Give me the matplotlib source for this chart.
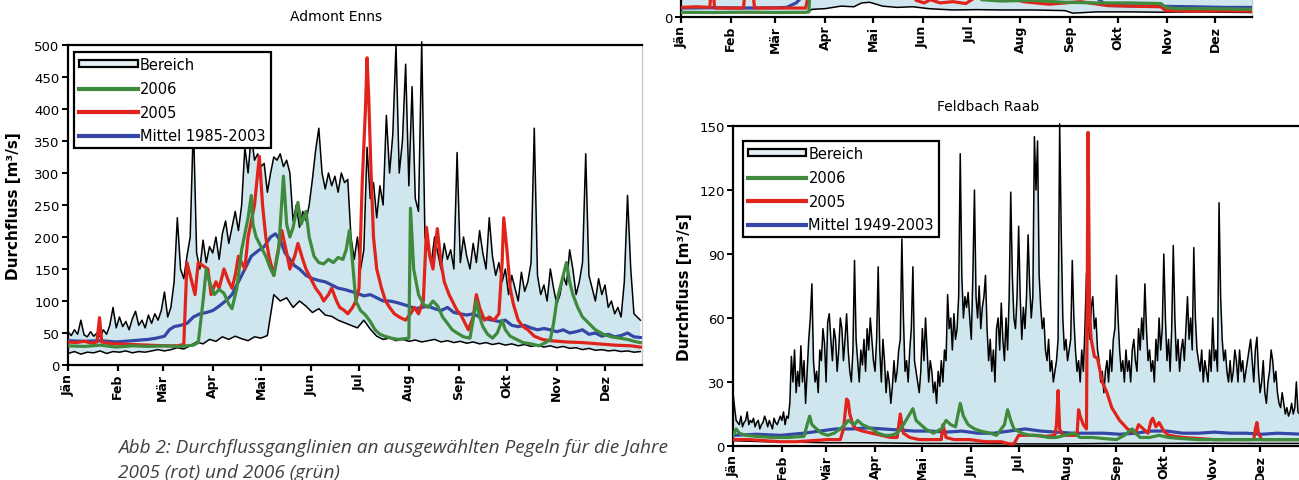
import numpy as np
import matplotlib
matplotlib.use("Agg")
import matplotlib.pyplot as plt
from matplotlib.patches import Patch
from matplotlib.lines import Line2D

# ---------------------------------------------------------------- data
months = ["Jän", "Feb", "Mär", "Apr", "Mai", "Jun", "Jul", "Aug", "Sep", "Okt", "Nov", "Dez"]
month_start = [0, 31, 59, 90, 120, 151, 181, 212, 243, 273, 304, 334]

# Admont / Enns  (day of year, discharge m³/s)
admont_upper = [
    52, 46, 55, 48, 70, 47, 44, 52, 45, 50, 44, 55, 48, 62, 90, 58,
    75, 60, 68, 55, 72, 84, 62, 70, 58, 78, 65, 80, 70, 85,
    114, 75, 90, 130, 230, 150, 135, 170, 200, 380, 175, 150, 195, 160, 185,
    175, 200, 165, 205, 225, 190, 215, 240, 210, 250, 340, 300, 360, 320, 330,
    310, 315, 270, 300, 325, 320, 330, 310, 320, 300, 225, 250, 215, 240, 225, 250,
    290, 335, 370, 300, 275, 300, 280, 295, 270, 300, 285, 290, 200, 165,
    200, 150, 180, 340, 260, 285, 230, 280, 250, 390, 300, 360, 500, 300, 350, 470,
    280, 435, 260, 240, 505, 200, 180, 160, 200, 175, 150, 190, 165, 180, 150, 332,
    160, 200, 170, 150, 190, 160, 210, 175, 150, 230, 170, 140, 160,
    130, 150, 110, 140, 120, 100, 145, 115, 130, 160, 370, 140, 110, 125, 100, 150,
    120, 95, 110, 140, 125, 180, 150, 110, 130, 160, 330, 140, 120, 100, 135,
    110, 125, 90, 100, 80, 90, 75, 130, 265, 150, 80, 75, 70,
]
admont_upper_days = list(range(0, 2 * len(admont_upper), 2))

admont_lower = [
    18, 21, 17, 20, 19, 22, 18, 21, 20, 22, 19, 21, 20, 22, 24, 22, 24, 27, 25, 30,
    36, 33, 40, 37, 44, 40, 45, 41, 38, 44, 42, 46, 110, 100, 105, 90, 100, 92, 82, 88,
    78, 76, 70, 66, 62, 58, 70, 56, 45, 40, 42, 38, 40, 37, 39, 36, 38, 40, 36, 38,
    35, 37, 34, 36, 33, 35, 32, 34, 31, 33, 30, 32, 29, 31, 28, 30, 27, 29, 26, 27,
    24, 26, 23, 24, 22, 23, 21, 22, 20, 21,
]
admont_lower_days = list(range(0, 4 * len(admont_lower), 4))

admont_2006_days = [0, 10, 20, 30, 40, 50, 60, 70, 78, 81, 84, 86, 88, 91, 94, 97, 100, 102, 105, 108,
                    110, 112, 114, 115, 117, 120, 123, 126, 128, 131, 134, 136, 138, 140, 143, 145, 148,
                    150, 153, 156, 159, 162, 165, 168, 171, 173, 175, 177, 179, 182, 185, 188, 191, 194,
                    197, 201, 205, 209, 212, 213, 215, 218, 221, 224, 227, 230, 233, 236, 239, 242, 246,
                    250, 254, 256, 258, 261, 264, 267, 270, 272, 275, 279, 283, 288, 293, 297, 300, 302,
                    304, 307, 310, 312, 314, 317, 320, 324, 328, 333, 338, 343, 348, 352, 356]
admont_2006 = [30, 29, 31, 28, 30, 29, 30, 29, 31, 35, 100, 150, 130, 110, 118, 112, 95, 88, 120, 180,
               205, 230, 265, 220, 200, 185, 170, 150, 140, 180, 295, 220, 200, 215, 254, 220, 240,
               200, 170, 160, 158, 165, 160, 168, 165, 180, 210, 160, 100, 85, 78, 68, 55, 48,
               45, 42, 40, 41, 42, 245, 150, 110, 95, 90, 100, 92, 75, 65, 55, 50, 44,
               42, 100, 75, 60, 48, 42, 50, 70, 55, 45, 40, 35, 33, 30, 35, 40, 65,
               100, 130, 160, 130, 110, 90, 75, 65, 55, 48, 44, 42, 40, 37, 35]

admont_2005_days = [0, 5, 10, 15, 18, 19.6, 21, 25, 30, 40, 50, 60, 68, 72, 74, 76, 79, 81, 84, 87, 89,
                    92, 94, 97, 100, 102, 104, 106, 108, 110, 112, 116, 119, 121, 123, 125, 128, 130,
                    133, 136, 138, 141, 143, 146, 148, 151, 154, 157, 159, 162, 164, 167, 169, 172,
                    174, 177, 179, 181, 183, 185, 186, 187, 188.5, 190, 192, 195, 197.5, 200, 203,
                    206, 210, 213, 215.5, 218, 221, 223, 225, 227, 229.7, 232, 234, 237, 239, 242,
                    244, 247, 249, 252, 254, 256, 259, 262, 265, 268, 270, 271, 273, 275, 277, 280,
                    283, 286, 290, 295, 300, 310, 320, 330, 340, 350, 356]
admont_2005 = [36, 35, 37, 34, 36, 74, 36, 34, 33, 32, 31, 30, 30, 32, 160, 140, 110, 160, 155, 150, 110,
               130, 120, 150, 130, 120, 140, 170, 160, 150, 200, 250, 326, 250, 200, 170, 140, 170,
               210, 175, 150, 170, 190, 165, 150, 135, 120, 110, 100, 110, 120, 100, 90, 85,
               80, 90, 100, 120, 285, 400, 480, 420, 300, 200, 150, 120, 100, 90, 80,
               75, 70, 80, 90, 80, 100, 215, 170, 150, 213, 160, 130, 110, 100, 85,
               80, 65, 55, 75, 110, 90, 70, 75, 70, 80, 160, 230, 180, 120, 95, 70,
               60, 55, 45, 40, 38, 36, 35, 33, 31, 30, 28]

admont_mean_days = [0, 10, 20, 30, 40, 50, 55, 60, 63, 66, 70, 74, 78, 82, 86, 90, 94, 98, 102, 106,
                    110, 114, 118, 122, 126, 129, 132, 135, 138, 141, 144, 148, 152, 156, 160, 164,
                    168, 172, 176, 180, 184, 188, 192, 196, 200, 204, 208, 212, 216, 220, 224, 228,
                    232, 236, 240, 244, 248, 252, 256, 260, 264, 268, 272, 276, 280, 284, 288, 292,
                    296, 300, 304, 308, 312, 316, 320, 324, 328, 332, 336, 340, 344, 348, 352, 356]
admont_mean = [38, 37, 38, 36, 38, 40, 42, 45, 55, 60, 62, 65, 75, 80, 82, 85, 92, 100, 110, 130,
               150, 170, 178, 185, 200, 205, 195, 175, 165, 155, 150, 140, 135, 132, 130, 125,
               120, 118, 115, 112, 108, 110, 105, 100, 100, 98, 95, 92, 88, 90, 92, 88,
               85, 90, 82, 80, 78, 80, 75, 72, 70, 68, 70, 62, 60, 62, 58, 55,
               57, 55, 52, 55, 50, 52, 55, 48, 50, 45, 48, 44, 46, 50, 44, 43]

# upper panel on the right (only its lowest band is inside the page)
top_lower_days = [0, 20, 40, 60, 79, 82, 90, 100, 108, 113, 118, 122, 126, 135, 145, 155, 162, 170,
                  185, 200, 220, 240, 245, 260, 280, 300, 320, 340, 357]
top_lower = [7, 7.5, 7, 7.5, 8, 12, 13, 17, 16, 22, 23, 20, 17, 15, 16, 13, 12, 11,
             11.5, 11, 11, 10, 6, 8, 8, 7.5, 8, 7.5, 7]
top_upper_days = [0, 60, 120, 180, 240, 300, 357]
top_upper = [80, 120, 250, 300, 200, 150, 120]
top_2005_days = [0, 10, 18, 19.5, 21, 30, 39, 41, 44, 46, 60, 78, 80, 82, 140, 147, 152, 156, 162,
                 170, 178, 190, 214, 230, 250, 266, 280, 300, 303, 320, 340, 357]
top_2005 = [15, 16, 15, 60, 14, 14, 14, 60, 60, 14, 14, 14, 40, 80, 60, 26, 22, 27, 22,
            24, 21, 40, 24, 20, 24, 18, 17, 16, 10, 9, 9.5, 9]
top_2006_days = [0, 20, 40, 60, 78, 80, 81, 120, 180, 188, 200, 220, 240, 260, 280, 300, 303, 310,
                 330, 357]
top_2006 = [7.3, 7, 7.5, 7, 7.3, 8, 80, 150, 60, 27, 25, 26, 23, 22, 22, 21, 15, 13, 13, 12]
top_mean_days = [0, 20, 40, 60, 66, 72, 79, 120, 200, 260, 266, 290, 320, 340, 357]
top_mean = [14, 14.5, 14, 14.5, 15, 22, 40, 110, 60, 30, 18, 17, 16, 15, 15]

# Feldbach / Raab  (daily values, day 0 .. 362)
feldbach_upper = [
    25, 18, 12, 11, 10, 14, 9, 11, 12, 16, 10, 12, 11, 13, 9, 11, 12, 8, 10, 11, 14, 12, 9, 12, 10, 8, 13, 11, 10, 12, 14,
    12, 16, 10, 14, 13, 20, 42, 30, 45, 25, 35, 28, 47, 30, 40, 20, 35, 50, 60, 76, 40, 30, 35, 25, 45, 40, 55, 48, 30,
    58, 62, 50, 40, 55, 50, 35, 45, 60, 55, 40, 50, 62, 45, 35, 30, 45, 87, 50, 40, 30, 45, 38, 50, 35, 55, 45, 60, 50, 40,
    35, 50, 84, 45, 30, 50, 40, 25, 35, 30, 20, 28, 40, 30, 35, 45, 50, 97, 60, 35, 40, 30, 45, 55, 84, 40, 35, 30, 25, 35,
    55, 40, 60, 45, 30, 40, 35, 25, 30, 20, 35, 28, 40, 30, 45, 40, 71, 55, 60, 45, 62, 50, 55, 70, 137, 80, 60, 70, 65, 72, 60,
    50, 80, 120, 70, 60, 75, 55, 65, 70, 80, 55, 40, 50, 35, 45, 30, 55, 60, 45, 67, 50, 40, 60, 45, 70, 119, 80, 60, 55, 70,
    103, 70, 50, 65, 55, 70, 99, 75, 60, 70, 145, 120, 143, 80, 65, 55, 60, 45, 40, 50, 35, 40, 30, 35, 40, 50, 151, 100, 60, 45, 50,
    40, 45, 50, 87, 60, 45, 35, 40, 30, 45, 35, 55, 81, 60, 50, 65, 70, 55, 60, 45, 40, 30, 35, 25, 35, 40, 30, 45, 35, 50, 55,
    80, 60, 45, 35, 40, 30, 45, 35, 40, 30, 45, 50, 40, 35, 55, 45, 60, 50, 76, 55, 40, 45, 35, 40, 30, 50, 40, 60, 45, 55,
    90, 60, 40, 50, 35, 55, 94, 60, 40, 50, 35, 45, 50, 40, 55, 70, 50, 60, 45, 93, 60, 45, 40, 35, 45, 30, 40, 35, 30, 45, 35,
    60, 40, 45, 35, 114, 70, 50, 40, 45, 35, 30, 40, 30, 35, 45, 40, 30, 45, 35, 40, 30, 35, 40, 45, 50, 40, 30, 45, 51, 35,
    25, 30, 40, 25, 20, 30, 35, 45, 40, 30, 35, 25, 20, 18, 25, 20, 15, 18, 14, 16, 20, 15, 18, 30, 16, 15, 14, 15, 15,
]
feldbach_upper_days = list(range(len(feldbach_upper)))

feldbach_lower_days = [0, 20, 40, 60, 90, 120, 150, 180, 210, 240, 270, 300, 330, 362]
feldbach_lower = [2.5, 2, 1.8, 1.5, 1.5, 1.2, 1.2, 1.0, 1.0, 1.2, 1.2, 1.3, 1.2, 1.2]

feldbach_2006_days = [0, 2, 4, 8, 15, 25, 35, 45, 47, 48.6, 50, 53, 56, 60, 64, 68, 71, 73, 75, 77, 79, 82,
                      85, 88, 92, 96, 100, 104, 108, 114, 116, 119, 122, 127, 132, 135, 138, 141, 144, 146,
                      149, 153, 157, 163, 167, 172, 174, 176, 178, 183, 188, 193, 200, 205, 210, 216, 220,
                      228, 235, 243, 248, 253, 255, 258, 264, 270, 276, 284, 295, 305, 315, 325, 335, 345, 362]
feldbach_2006 = [5, 8, 6, 5, 4.5, 4, 4, 4.5, 10, 14, 10, 8, 6, 5, 6, 8, 10, 12, 11, 10, 12, 10,
                 9, 8, 6, 5, 5, 6, 10, 17.5, 12, 10, 8, 6, 8, 12, 10, 9, 20, 14,
                 10, 8, 7, 6, 5, 10, 17, 12, 8, 6, 5, 5, 4, 4, 5, 6, 4,
                 4, 3.5, 3, 5, 8, 6, 4, 4, 5, 4, 3.5, 3, 3, 3, 3, 3, 3, 3]

feldbach_2005_days = [0, 10, 20, 30, 40, 50, 60, 68, 70, 72, 73, 74, 76, 78, 82, 88, 94, 100, 104, 106,
                      108, 112, 118, 126, 132, 133, 135, 140, 150, 160, 170, 175, 178, 181, 190, 198,
                      204, 205, 206, 207, 209, 215, 218, 219, 220, 222, 224, 225, 226, 227, 229, 231,
                      234, 237, 240, 245, 250, 255, 257, 260, 263, 265, 266, 268, 270, 273, 276, 285,
                      295, 305, 315, 325, 330, 331, 332, 333, 335, 345, 362]
feldbach_2005 = [3, 3, 2.5, 2, 2, 2.5, 3, 3, 8, 22, 21, 15, 10, 8, 7, 6, 5, 4, 4, 15,
                 6, 4, 3, 3, 3, 10, 4, 3, 3, 2, 2, 1, 1, 5, 5, 4.5,
                 5, 10, 26, 8, 5, 5, 5, 17, 14, 10, 8, 147, 60, 50, 42, 41,
                 30, 25, 18, 12, 8, 6, 10, 8, 6, 12, 13, 9, 11, 7, 5, 4,
                 3.5, 3, 3, 3, 3, 8, 11, 6, 3, 3, 3]

feldbach_mean_days = [0, 15, 30, 45, 55, 65, 75, 85, 95, 105, 115, 125, 135, 145, 155, 165, 175, 185,
                      195, 205, 215, 225, 235, 245, 255, 265, 275, 285, 295, 305, 315, 325, 335, 345, 362]
feldbach_mean = [5, 5.5, 5, 6, 7, 8, 8, 8.5, 8, 7.5, 7, 7, 6.5, 7, 6, 6, 7, 8,
                 7, 6.5, 6, 6, 6, 5.5, 6, 7, 7, 6, 6, 6.5, 6, 6, 5.5, 6, 5.5]

# ---------------------------------------------------------------- style
W, H, DPI = 1299, 481, 100
C_FILL = "#cfe6ee"
C_2006 = "#3f8a3c"
C_2005 = "#e0241b"
C_MEAN = "#3547a6"
LW_SERIES = 2.3

plt.rcParams["font.family"] = ["DejaVu Sans"]

fig = plt.figure(figsize=(W / DPI, H / DPI), dpi=DPI)


def px_box(x0, y0, x1, y1):
    return [x0 / W, 1 - y1 / H, (x1 - x0) / W, (y1 - y0) / H]


def draw_panel(ax, up_d, up_v, lo_d, lo_v, d06, v06, d05, v05, dm, vm):
    xs = np.r_[up_d, lo_d[::-1]]
    ys = np.r_[up_v, lo_v[::-1]]
    ax.fill(xs, ys, color=C_FILL, lw=0, zorder=1)
    ax.plot(lo_d, lo_v, color="black", lw=1.1, zorder=2)
    ax.plot(up_d, up_v, color="black", lw=1.1, zorder=2, clip_on=False)
    ax.plot(dm, vm, color=C_MEAN, lw=LW_SERIES, zorder=3)
    ax.plot(d05, v05, color=C_2005, lw=LW_SERIES, zorder=4)
    ax.plot(d06, v06, color=C_2006, lw=LW_SERIES, zorder=5)


def style_axes(ax, xmax, ymax, yticks):
    ax.set_xlim(0, xmax)
    ax.set_ylim(0, ymax)
    ax.set_xticks(month_start)
    ax.set_xticklabels(months, rotation=90, fontsize=9, fontweight="bold")
    ax.tick_params(axis="x", length=4, width=1.6, pad=1.5)
    ax.set_yticks(yticks)
    ax.set_yticklabels([str(t) for t in yticks], fontsize=9.5)
    ax.tick_params(axis="y", length=4, width=1.4, pad=2)
    for side in ("left", "bottom", "top"):
        ax.spines[side].set_linewidth(1.6)
        ax.spines[side].set_color("black")
    ax.spines["right"].set_linewidth(1.0)
    ax.spines["right"].set_color("#c8c8c8")


def add_legend(ax, mean_label, anchor):
    handles = [
        Patch(facecolor="#e4f0f4", edgecolor="black", linewidth=1.6),
        Line2D([], [], color=C_2006, lw=3),
        Line2D([], [], color=C_2005, lw=3),
        Line2D([], [], color=C_MEAN, lw=3),
    ]
    labels = ["Bereich", "2006", "2005", mean_label]
    leg = ax.legend(handles, labels, loc="upper left", bbox_to_anchor=anchor,
                    borderaxespad=0, fontsize=10.5, handlelength=4.0, handleheight=0.35,
                    handletextpad=0.15, labelspacing=0.6, borderpad=0.35,
                    fancybox=False, framealpha=1, edgecolor="black")
    leg.get_frame().set_linewidth(1.6)
    leg.set_zorder(10)


# left panel: Admont Enns
ax1 = fig.add_axes(px_box(68, 46, 642, 366))
draw_panel(ax1, np.array(admont_upper_days), np.array(admont_upper),
           np.array(admont_lower_days), np.array(admont_lower),
           admont_2006_days, admont_2006, admont_2005_days, admont_2005,
           admont_mean_days, admont_mean)
style_axes(ax1, 357, 500, list(range(0, 501, 50)))
ax1.set_ylabel("Durchfluss [m³/s]", fontsize=11, fontweight="bold")
ax1.yaxis.set_label_coords(-0.082, 0.5)
add_legend(ax1, "Mittel 1985-2003", (0.011, 0.978))

# upper right panel
ax2 = fig.add_axes(px_box(681, -302, 1252, 18))
draw_panel(ax2, np.array(top_upper_days), np.array(top_upper),
           np.array(top_lower_days), np.array(top_lower),
           top_2006_days, top_2006, top_2005_days, top_2005,
           top_mean_days, top_mean)
style_axes(ax2, 357, 500, [0])

# lower right panel: Feldbach Raab
ax3 = fig.add_axes(px_box(733, 127, 1309, 447))
draw_panel(ax3, np.array(feldbach_upper_days), np.array(feldbach_upper),
           np.array(feldbach_lower_days), np.array(feldbach_lower),
           feldbach_2006_days, feldbach_2006, feldbach_2005_days, feldbach_2005,
           feldbach_mean_days, feldbach_mean)
style_axes(ax3, 365, 150, list(range(0, 151, 30)))
ax3.set_ylabel("Durchfluss [m³/s]", fontsize=11, fontweight="bold")
ax3.yaxis.set_label_coords(-0.072, 0.5)
add_legend(ax3, "Mittel 1949-2003", (0.017, 0.953))

# titles
fig.text(336 / W, 1 - 17 / H, "Admont Enns", ha="center", va="center", fontsize=10)
fig.text(988 / W, 1 - 107 / H, "Feldbach Raab", ha="center", va="center", fontsize=10)

# caption, sized so that the first line spans 550 px
cap_kw = dict(ha="left", va="center", fontsize=12, style="italic",
              color="#404040", family=["Open Sans", "DejaVu Sans"])
cap1 = fig.text(118 / W, 1 - 448 / H,
                "Abb 2: Durchflussganglinien an ausgewählten Pegeln für die Jahre", **cap_kw)
cap2 = fig.text(118 / W, 1 - 473 / H, "2005 (rot) und 2006 (grün)", **cap_kw)
fig.canvas.draw()
width_px = cap1.get_window_extent().width
fs = 12 * 550 / width_px
cap1.set_fontsize(fs)
cap2.set_fontsize(fs)

fig.savefig("out.png", dpi=DPI)
